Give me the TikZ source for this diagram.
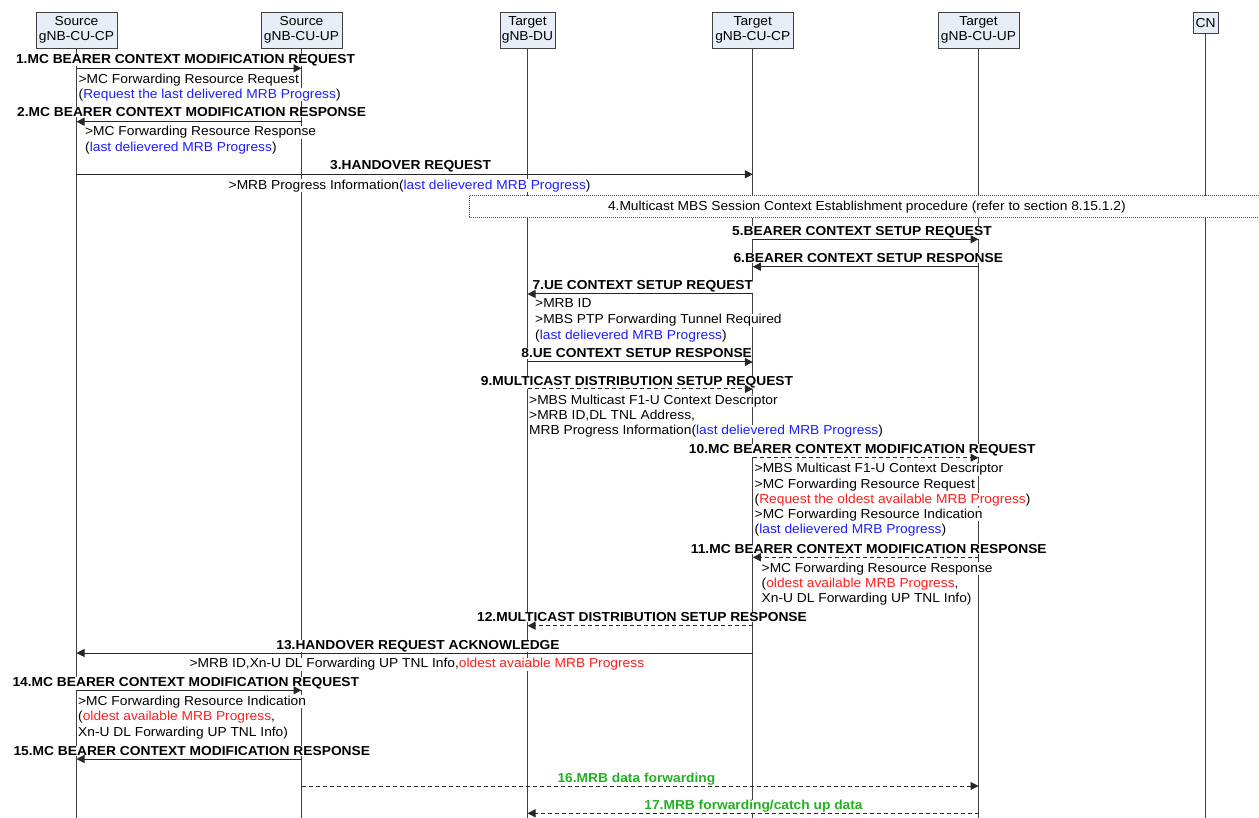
\documentclass[tikz,border=0pt]{standalone}
\usepackage{fontspec}
\setmainfont{Liberation Sans}[FakeStretch=1.06]
\usetikzlibrary{arrows.meta}

\definecolor{hdrfill}{RGB}{232,238,248}
\definecolor{tblue}{RGB}{30,30,255}
\definecolor{tred}{RGB}{255,30,30}
\definecolor{tgreen}{RGB}{34,177,34}

\tikzset{
  hdr/.style={draw=black!75, fill=hdrfill, line width=0.8pt, inner sep=0pt, align=center,
              minimum height=36pt, font=\fontsize{13}{15}\selectfont},
  life/.style={black!75, line width=1pt},
  msg/.style={black!85, line width=1pt, -{Triangle[length=8pt,width=8pt]}},
  dmsg/.style={msg, dash pattern=on 4pt off 3pt},
  lbl/.style={font=\fontsize{13}{15}\selectfont\bfseries, fill=white, inner sep=0.5pt, anchor=base},
  glbl/.style={lbl, text=tgreen},
  note/.style={font=\fontsize{13}{15}\selectfont, fill=white, inner sep=0.5pt, anchor=base west},
  procbox/.style={draw=black!70, dash pattern=on 1pt off 1pt, line width=0.8pt, fill=white,
                  inner sep=0pt, font=\fontsize{13}{15}\selectfont},
}

\begin{document}
\begin{tikzpicture}[x=1pt,y=-1pt]
\useasboundingbox (0,0) rectangle (1259,818);

% headers
\node[hdr, minimum width=81pt] (scp) at (76.5,30.3) {Source\\gNB-CU-CP};
\node[hdr, minimum width=81pt] (sup) at (301.5,30.3) {Source\\gNB-CU-UP};
\node[hdr, minimum width=55pt] (tdu) at (527.5,30.3) {Target\\gNB-DU};
\node[hdr, minimum width=80.5pt] (tcp) at (752.8,30.3) {Target\\gNB-CU-CP};
\node[hdr, minimum width=81pt] (tup) at (978.5,30.3) {Target\\gNB-CU-UP};
\node[hdr, minimum width=25pt, minimum height=21pt] (cn) at (1205.5,23) {CN};

% lifelines
\foreach \n in {scp,sup,tdu,tcp,tup,cn}{
  \draw[life] (\n.south) -- (\n.south |- 0,818);
}

% procedure box 4
\node[procbox, minimum width=795pt, minimum height=22pt, anchor=north west] (b4) at (469,195.5)
  {4.Multicast MBS Session Context Establishment procedure (refer to section 8.15.1.2)};

% labels
\node[lbl] (l1) at (185.5,63.3) {1.MC BEARER CONTEXT MODIFICATION REQUEST};
\node[lbl] (l2) at (191.6,116.7) {2.MC BEARER CONTEXT MODIFICATION RESPONSE};
\node[lbl] (l3) at (410.6,170) {3.HANDOVER REQUEST};
\node[lbl] (l5) at (862,235.5) {5.BEARER CONTEXT SETUP REQUEST};
\node[lbl] (l6) at (868.3,262.5) {6.BEARER CONTEXT SETUP RESPONSE};
\node[lbl] (l7) at (642.8,290) {7.UE CONTEXT SETUP REQUEST};
\node[lbl] (l8) at (636.7,358) {8.UE CONTEXT SETUP RESPONSE};
\node[lbl] (l9) at (637,385.5) {9.MULTICAST DISTRIBUTION SETUP REQUEST};
\node[lbl] (l10) at (862.2,453.9) {10.MC BEARER CONTEXT MODIFICATION REQUEST};
\node[lbl] (l11) at (868.8,553.3) {11.MC BEARER CONTEXT MODIFICATION RESPONSE};
\node[lbl] (l12) at (642,621.3) {12.MULTICAST DISTRIBUTION SETUP RESPONSE};
\node[lbl] (l13) at (418,649.2) {13.HANDOVER REQUEST ACKNOWLEDGE};
\node[lbl] (l14) at (185.8,686.5) {14.MC BEARER CONTEXT MODIFICATION REQUEST};
\node[lbl] (l15) at (191.8,755.3) {15.MC BEARER CONTEXT MODIFICATION RESPONSE};
\node[glbl] (l16) at (636.4,782.5) {16.MRB data forwarding};
\node[glbl] (l17) at (753.5,809.8) {17.MRB forwarding/catch up data};

% notes
\node[note] (n1a) at (78,83.3) {>MC Forwarding Resource Request};
\node[note] (n1b) at (78,98.3) {(\textcolor{tblue}{Request the last delivered MRB Progress})};
\node[note] (n2a) at (84.5,136) {>MC Forwarding Resource Response};
\node[note] (n2b) at (84.5,151.7) {(\textcolor{tblue}{last delievered MRB Progress})};
\node[note] (n3) at (228,189.3) {>MRB Progress Information(\textcolor{tblue}{last delievered MRB Progress})};
\node[note] (n7a) at (534.5,308) {>MRB ID};
\node[note] (n7b) at (534.5,323.6) {>MBS PTP Forwarding Tunnel Required};
\node[note] (n7c) at (534.5,339.2) {(\textcolor{tblue}{last delievered MRB Progress})};
\node[note] (n9a) at (528.5,404.3) {>MBS Multicast F1-U Context Descriptor};
\node[note] (n9b) at (528.5,420) {>MRB ID,DL TNL Address,};
\node[note] (n9c) at (528.5,435) {MRB Progress Information(\textcolor{tblue}{last delievered MRB Progress})};
\node[note] (n10a) at (754,472.6) {>MBS Multicast F1-U Context Descriptor};
\node[note] (n10b) at (754,488.3) {>MC Forwarding Resource Request};
\node[note] (n10c) at (754,503) {(\textcolor{tred}{Request the oldest available MRB Progress})};
\node[note] (n10d) at (754,518.3) {>MC Forwarding Resource Indication};
\node[note] (n10e) at (754,533.6) {(\textcolor{tblue}{last delievered MRB Progress})};
\node[note] (n11a) at (761,572) {>MC Forwarding Resource Response};
\node[note] (n11b) at (761,587) {(\textcolor{tred}{oldest available MRB Progress},};
\node[note] (n11c) at (761,602.6) {Xn-U DL Forwarding UP TNL Info)};
\node[note] (n13) at (189,667.6) {>MRB ID,Xn-U DL Forwarding UP TNL Info,\textcolor{tred}{oldest avaiable MRB Progress}};
\node[note] (n14a) at (77.5,705) {>MC Forwarding Resource Indication};
\node[note] (n14b) at (77.5,720.5) {(\textcolor{tred}{oldest available MRB Progress},};
\node[note] (n14c) at (77.5,736) {Xn-U DL Forwarding UP TNL Info)};

% messages
\draw[msg]  (scp |- 0,68.3)  -- (sup |- 0,68.3);
\draw[msg]  (sup |- 0,121.7) -- (scp |- 0,121.7);
\draw[msg]  (scp |- 0,174.3) -- (tcp |- 0,174.3);
\draw[msg]  (tcp |- 0,239.3) -- (tup |- 0,239.3);
\draw[msg]  (tup |- 0,266.7) -- (tcp |- 0,266.7);
\draw[msg]  (tcp |- 0,294)   -- (tdu |- 0,294);
\draw[msg]  (tdu |- 0,362)   -- (tcp |- 0,362);
\draw[dmsg] (tdu |- 0,389)   -- (tcp |- 0,389);
\draw[dmsg] (tcp |- 0,457.7) -- (tup |- 0,457.7);
\draw[dmsg] (tup |- 0,557.3) -- (tcp |- 0,557.3);
\draw[dmsg] (tcp |- 0,625.7) -- (tdu |- 0,625.7);
\draw[msg]  (tcp |- 0,653)   -- (scp |- 0,653);
\draw[msg]  (scp |- 0,690.3) -- (sup |- 0,690.3);
\draw[msg]  (sup |- 0,759)   -- (scp |- 0,759);
\draw[dmsg] (sup |- 0,786)   -- (tup |- 0,786);
\draw[dmsg] (tup |- 0,813.3) -- (tdu |- 0,813.3);
\end{tikzpicture}
\end{document}
